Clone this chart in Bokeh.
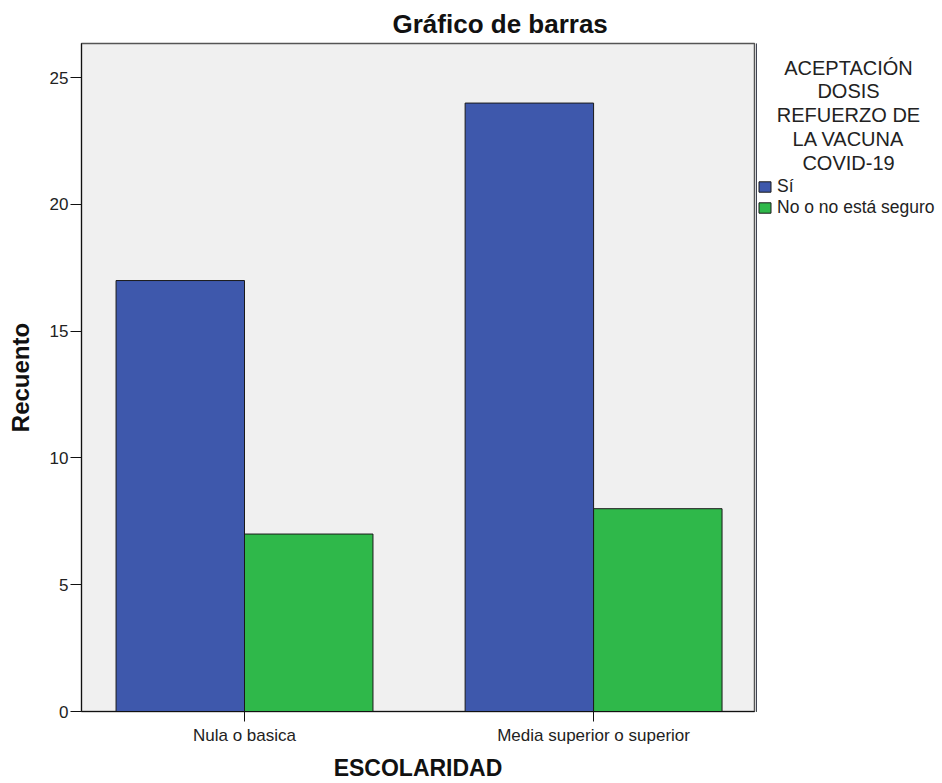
import numpy as np
from bokeh.plotting import figure
from bokeh.layouts import row
from bokeh.models import (ColumnDataSource, FixedTicker, Legend, LegendItem,
                          Label, Range1d)
from bokeh.embed import file_html
from bokeh.resources import INLINE

# ---- data ----
categories = ["Nula o basica", "Media superior o superior"]
series_names = ["Sí", "No o no está seguro"]
si_values = [17, 24]
no_values = [7, 8]
y_ticks = [0, 5, 10, 15, 20, 25]
title_text = "Gráfico de barras"
legend_title = "ACEPTACIÓN\nDOSIS\nREFUERZO DE\nLA VACUNA\nCOVID-19"
x_label = "ESCOLARIDAD"
y_label = "Recuento"

colors = ["#3E58AC", "#2FB84A"]
FONT = "Liberation Sans"
EDGE = "#1a1a1a"

idx = np.arange(len(categories))
bar_w = 0.368
src_si = ColumnDataSource(dict(x=idx - bar_w / 2, top=si_values))
src_no = ColumnDataSource(dict(x=idx + bar_w / 2, top=no_values))

p = figure(width=756, height=783, output_backend="svg", toolbar_location=None,
           x_range=Range1d(-0.467, 1.461), y_range=Range1d(0, 26.35),
           min_border_left=81, min_border_right=2, min_border_top=43,
           min_border_bottom=72)

p.background_fill_color = "#F0F0F0"
p.border_fill_color = "white"
p.outline_line_color = "#555555"
p.outline_line_width = 1.5
p.xgrid.visible = False
p.ygrid.visible = False

r_si = p.vbar(x="x", top="top", width=bar_w, bottom=0, source=src_si,
              fill_color=colors[0], line_color=EDGE, line_width=1)
r_no = p.vbar(x="x", top="top", width=bar_w, bottom=0, source=src_no,
              fill_color=colors[1], line_color=EDGE, line_width=1)

# title
p.title.text = title_text
p.title.text_font = FONT
p.title.text_font_size = "26px"
p.title.text_font_style = "bold"
p.title.align = "left"
p.title.offset = 311
p.title.standoff = 9
p.title.text_color = "#111111"

# x axis
xa = p.xaxis[0]
xa.ticker = FixedTicker(ticks=list(idx))
xa.major_label_overrides = {int(i): c for i, c in zip(idx, categories)}
xa.major_tick_out = 10
xa.major_tick_in = 0
xa.minor_tick_out = 0
xa.minor_tick_in = 0
xa.major_label_standoff = 4
xa.major_label_text_font = FONT
xa.major_label_text_font_size = "17px"
xa.major_label_text_color = "#222222"
xa.axis_line_color = "#111111"
xa.major_tick_line_color = "#111111"
xa.axis_label = x_label
xa.axis_label_text_font = FONT
xa.axis_label_text_font_size = "23px"
xa.axis_label_text_font_style = "bold"
xa.axis_label_text_color = "#111111"
xa.axis_label_standoff = 7

# y axis
ya = p.yaxis[0]
ya.ticker = FixedTicker(ticks=y_ticks)
ya.major_tick_out = 11
ya.major_tick_in = 0
ya.minor_tick_out = 0
ya.minor_tick_in = 0
ya.major_label_standoff = 2
ya.major_label_text_font = FONT
ya.major_label_text_font_size = "17px"
ya.major_label_text_color = "#222222"
ya.axis_line_color = "#111111"
ya.major_tick_line_color = "#111111"
ya.axis_label = y_label
ya.axis_label_text_font = FONT
ya.axis_label_text_font_size = "24px"
ya.axis_label_text_font_style = "bold"
ya.axis_label_text_color = "#111111"
ya.axis_label_standoff = 13

# ---- legend panel (separate figure to the right) ----
# its frame is aligned with the main plot's frame (y 43..711)
p2 = figure(width=186, height=783, output_backend="svg", toolbar_location=None,
            x_range=Range1d(10, 11), y_range=Range1d(10, 11),
            min_border_left=0, min_border_right=0, min_border_top=43,
            min_border_bottom=72)
p2.axis.visible = False
p2.grid.visible = False
p2.outline_line_color = None
p2.background_fill_color = "white"

# same series, drawn outside this panel's visible range; only used for legend glyphs
leg_si = p2.vbar(x="x", top="top", width=bar_w, bottom=0, source=src_si,
                 fill_color=colors[0], line_color=EDGE, line_width=1)
leg_no = p2.vbar(x="x", top="top", width=bar_w, bottom=0, source=src_no,
                 fill_color=colors[1], line_color=EDGE, line_width=1)

lt = Label(x=92, y=655, x_units="screen", y_units="screen", text=legend_title,
           text_font=FONT, text_font_size="20px", text_align="center",
           text_baseline="top", text_line_height=1.08, text_color="#222222")
p2.add_layout(lt)

legend = Legend(items=[LegendItem(label=series_names[0], renderers=[leg_si]),
                       LegendItem(label=series_names[1], renderers=[leg_no])],
                location=(1, 493), padding=0, margin=0, spacing=0,
                glyph_width=15, glyph_height=13, label_standoff=5,
                label_height=21, label_text_font=FONT,
                label_text_font_size="17.5px", label_text_color="#222222",
                border_line_color=None, background_fill_alpha=0)
p2.add_layout(legend, "center")

layout = row(p, p2, spacing=0)
open("out.html", "w").write(file_html(layout, INLINE))
